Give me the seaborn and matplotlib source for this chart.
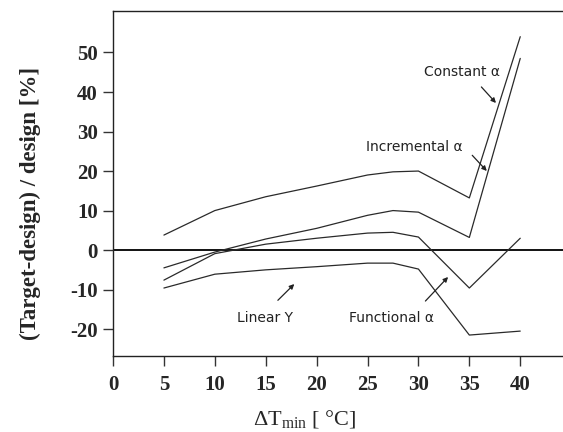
import matplotlib
matplotlib.use("Agg")
import matplotlib.pyplot as plt
import seaborn as sns
import pandas as pd

# ---- data ----
dt_min = [5, 10, 15, 20, 25, 27.5, 30, 35, 40]
constant_alpha = [3.8, 10.0, 13.5, 16.2, 19.0, 19.8, 20.0, 13.2, 54.0]
incremental_alpha = [-4.5, -0.5, 2.8, 5.5, 8.8, 10.0, 9.6, 3.2, 48.5]
functional_alpha = [-7.6, -0.9, 1.5, 3.0, 4.3, 4.5, 3.3, -9.6, 3.0]
linear_y = [-9.6, -6.1, -5.0, -4.2, -3.3, -3.3, -4.8, -21.5, -20.5]

x_ticks = [0, 5, 10, 15, 20, 25, 30, 35, 40]
y_ticks = [-20, -10, 0, 10, 20, 30, 40, 50]

sns.set_style("ticks")
plt.rcParams["font.family"] = ["Liberation Serif", "DejaVu Serif"]
plt.rcParams["mathtext.fontset"] = "custom"
plt.rcParams["mathtext.rm"] = "Liberation Serif"
plt.rcParams["mathtext.it"] = "Liberation Serif:italic"

fig = plt.figure(figsize=(5.63, 4.32), dpi=100)
ax = fig.add_axes([113 / 563, 1 - 356 / 432, 450 / 563, 345 / 432])

series = {
    "Constant": constant_alpha,
    "Incremental": incremental_alpha,
    "Functional": functional_alpha,
    "Linear Y": linear_y,
}
for name, vals in series.items():
    df = pd.DataFrame({"x": dt_min, "y": vals})
    sns.lineplot(data=df, x="x", y="y", ax=ax, color="#2a2a2a", linewidth=0.9,
                 estimator=None, sort=False)

ax.axhline(0, color="#111111", linewidth=1.4, zorder=1)

ax.set_xlim(0, 44.2)
ax.set_ylim(-26.8, 60.5)
ax.set_xticks(x_ticks)
ax.set_yticks(y_ticks)
ax.set_xticklabels([str(v) for v in x_ticks], fontweight="bold", fontsize=15)
ax.set_yticklabels([str(v) for v in y_ticks], fontweight="bold", fontsize=15)
ax.tick_params(axis="both", direction="out", length=7, width=1.0, color="#333333")
ax.tick_params(axis="x", pad=7)
ax.tick_params(axis="y", pad=4)

ax.spines["right"].set_visible(False)
for s in ["left", "bottom", "top"]:
    ax.spines[s].set_color("#222222")
    ax.spines[s].set_linewidth(1.0)

ax.set_xlabel(r"ΔT$_{\mathrm{min}}$ [ °C]", fontsize=16)
ax.set_ylabel("(Target-design) / design [%]", fontsize=16.5, fontweight="bold")
ax.xaxis.set_label_coords((304 - 113) / 450, -(408 - 356) / 345)
ax.yaxis.set_label_coords(-(113 - 41) / 450, (356 - 203) / 345)

lab_kw = dict(fontsize=10, family="DejaVu Sans", color="#222222", ha="center", va="center")
arr = dict(arrowstyle="-|>", color="#222222", lw=0.9, mutation_scale=7)
ax.text(34.3, 45, "Constant α", **lab_kw)
ax.annotate("", xy=(37.8, 36.7), xytext=(36.0, 41.8), arrowprops=arr)
ax.text(29.6, 26, "Incremental α", **lab_kw)
ax.annotate("", xy=(36.9, 19.5), xytext=(35.1, 24.5), arrowprops=arr)
ax.text(14.9, -17.2, "Linear Y", **lab_kw)
ax.annotate("", xy=(18.0, -8.1), xytext=(16.0, -13.2), arrowprops=arr)
ax.text(27.4, -17.2, "Functional α", **lab_kw)
ax.annotate("", xy=(33.1, -6.3), xytext=(30.5, -13.4), arrowprops=arr)

fig.savefig("out.png", dpi=100)
